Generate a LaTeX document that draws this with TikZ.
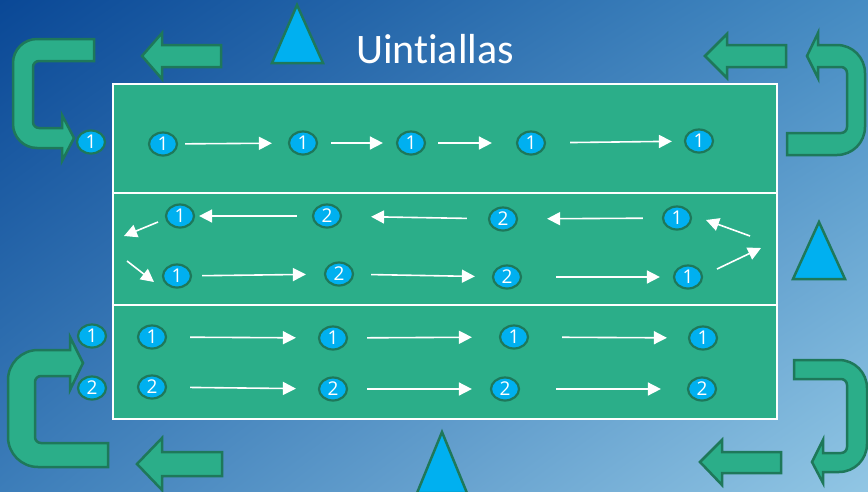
\documentclass[tikz,border=0pt]{standalone}
\usepackage{fontspec}
\setmainfont{Open Sans}
\newfontfamily\titlefont[Ligatures=NoCommon]{Carlito}
\usetikzlibrary{shapes.geometric,arrows.meta,shadings}

\definecolor{pitch}{RGB}{43,174,137}
\definecolor{rim}{RGB}{30,120,90}
\definecolor{ball}{RGB}{0,176,240}
\definecolor{bgUL}{RGB}{10,72,150}
\definecolor{bgUR}{RGB}{70,140,195}
\definecolor{bgLL}{RGB}{60,125,185}
\definecolor{bgLR}{RGB}{145,198,228}

\tikzset{
  num/.style={ellipse, draw=rim, line width=2.2pt, fill=ball, text=white,
    minimum width=28pt, minimum height=23pt, inner sep=0pt,
    font=\fontsize{19}{19}\selectfont},
  flow/.style={draw=white, line width=1.6pt,
    -{Triangle[length=13pt,width=13pt]}},
  blockarrow/.style={draw=rim, line width=2.5pt, fill=pitch, line join=miter},
  cone/.style={draw=rim, line width=2.5pt, fill=ball, line join=miter},
  lane/.style={draw=white, line width=2pt}
}

\begin{document}
\begin{tikzpicture}[x=1pt, y=-1pt]
\useasboundingbox (0,0) rectangle (868,491);
% background
\shade[upper left=bgUL, upper right=bgUR, lower left=bgLL, lower right=bgLR]
  (0,0) rectangle (868,491);

% pool with three lanes
\fill[pitch] (113,84) rectangle (777,419);
\draw[lane] (113,84) rectangle (777,419);
\draw[lane] (113,193) -- (777,193);
\draw[lane] (113,305) -- (777,305);

% title
\node[anchor=base, text=white, font=\titlefont\fontsize{42}{42}\selectfont]
  (title) at (435,63) {Uintiallas};

% cones
\draw[cone] (297,5) -- (272,63) -- (323,63) -- cycle;
\draw[cone] (819,222) -- (793,279) -- (845,279) -- cycle;
\draw[cone] (442,432) -- (417,493) -- (467,493) -- cycle;

% straight block arrows, pointing left
\draw[blockarrow] (142,56) -- (162,33) -- (162,45) -- (221,45) -- (221,67)
  -- (162,67) -- (162,79) -- cycle;
\draw[blockarrow] (705,56) -- (727,34) -- (727,45) -- (786,45) -- (786,67)
  -- (727,67) -- (727,78) -- cycle;
\draw[blockarrow] (137,464) -- (162,438) -- (162,452) -- (222,452) -- (222,476)
  -- (162,476) -- (162,490) -- cycle;
\draw[blockarrow] (700,462) -- (722,440) -- (722,452) -- (781,452) -- (781,473)
  -- (722,473) -- (722,485) -- cycle;

% U-turn block arrows
% top left
\draw[blockarrow] (94,39) -- (37,39) arc[start angle=270, end angle=180, radius=24]
  -- (13,124) arc[start angle=180, end angle=90, radius=24]
  -- (62,148) -- (62,161) -- (74,138) -- (62,115) -- (62,128)
  -- (39,128) arc[start angle=90, end angle=180, radius=6]
  -- (33,67) arc[start angle=180, end angle=270, radius=6]
  -- (94,61) -- cycle;
% top right
\draw[blockarrow] (818,33) -- (807,56) -- (818,78) -- (818,67)
  -- (841,67) arc[start angle=270, end angle=360, radius=6]
  -- (847,127) arc[start angle=0, end angle=90, radius=6]
  -- (787,133) -- (787,155)
  -- (837,155) arc[start angle=90, end angle=0, radius=28]
  -- (865,73) arc[start angle=0, end angle=-90, radius=28]
  -- (818,45) -- cycle;
% bottom left
\draw[blockarrow] (70,337) -- (83,363) -- (70,390) -- (70,376)
  -- (41,376) arc[start angle=270, end angle=180, radius=6]
  -- (35,437) arc[start angle=180, end angle=90, radius=6]
  -- (108,443) -- (108,467)
  -- (38,467) arc[start angle=90, end angle=180, radius=30]
  -- (8,380) arc[start angle=180, end angle=270, radius=30]
  -- (70,350) -- cycle;
% bottom right
\draw[blockarrow] (794,360) -- (839,360) arc[start angle=270, end angle=360, radius=28]
  -- (867,444) arc[start angle=0, end angle=90, radius=28]
  -- (823,472) -- (823,483) -- (812,462) -- (823,440) -- (823,453)
  -- (841,453) arc[start angle=90, end angle=0, radius=6]
  -- (847,385) arc[start angle=0, end angle=-90, radius=6]
  -- (794,379) -- cycle;

% swimmers
\node[num] (o1) at (91,142) {1};
\node[num] (a1) at (163,144) {1};
\node[num] (a2) at (303,143) {1};
\node[num] (a3) at (411,143) {1};
\node[num] (a4) at (531,143) {1};
\node[num] (a5) at (699,141) {1};

\node[num] (b1) at (180,216) {1};
\node[num] (b2) at (327,216) {2};
\node[num] (b3) at (503,219) {2};
\node[num] (b4) at (677,218) {1};

\node[num] (c1) at (177,276) {1};
\node[num] (c2) at (339,274) {2};
\node[num] (c3) at (507,277) {2};
\node[num] (c4) at (688,277) {1};

\node[num] (od) at (92,336) {1};
\node[num] (d1) at (152,337) {1};
\node[num] (d2) at (333,338) {1};
\node[num] (d3) at (514,337) {1};
\node[num] (d4) at (703,338) {1};

\node[num] (oe) at (92,388) {2};
\node[num] (e1) at (152,387) {2};
\node[num] (e2) at (333,389) {2};
\node[num] (e3) at (505,389) {2};
\node[num] (e4) at (702,389) {2};

% lane 1
\draw[flow, shorten <=7pt, shorten >=16pt] (a1) -- (a2);
\draw[flow, shorten <=13pt, shorten >=13pt] (a2) -- (a3);
\draw[flow, shorten <=12pt, shorten >=24pt] (a3) -- (a4);
\draw[flow, shorten <=24pt, shorten >=12pt] (a4) -- (a5);

% lane 2, out and back
\draw[flow, shorten <=19pt, shorten >=29pt] (b4) -- (b3);
\draw[flow, shorten <=21pt, shorten >=29pt] (b3) -- (b2);
\draw[flow, shorten <=15pt, shorten >=4pt] (b2) -- (b1);
\draw[flow, shorten <=10pt, shorten >=18pt] (c1) -- (c2);
\draw[flow, shorten <=17pt, shorten >=17pt] (c2) -- (c3);
\draw[flow, shorten <=34pt, shorten >=13pt] (c3) -- (c4);
\coordinate (tl1) at (158,222);
\coordinate (tl2) at (124,236);
\coordinate (tl3) at (127,261);
\coordinate (tl4) at (154,282);
\coordinate (tr1) at (717,269);
\coordinate (tr2) at (761,248);
\coordinate (tr3) at (750,236);
\coordinate (tr4) at (706,220);
\draw[flow] (tl1) -- (tl2);
\draw[flow] (tl3) -- (tl4);
\draw[flow] (tr1) -- (tr2);
\draw[flow] (tr3) -- (tr4);

% lane 3
\draw[flow, shorten <=23pt, shorten >=22pt] (d1) -- (d2);
\draw[flow, shorten <=19pt, shorten >=27pt] (d2) -- (d3);
\draw[flow, shorten <=33pt, shorten >=21pt] (d3) -- (d4);
\draw[flow, shorten <=23pt, shorten >=22pt] (e1) -- (e2);
\draw[flow, shorten <=19pt, shorten >=18pt] (e2) -- (e3);
\draw[flow, shorten <=36pt, shorten >=26pt] (e3) -- (e4);
\end{tikzpicture}
\end{document}
